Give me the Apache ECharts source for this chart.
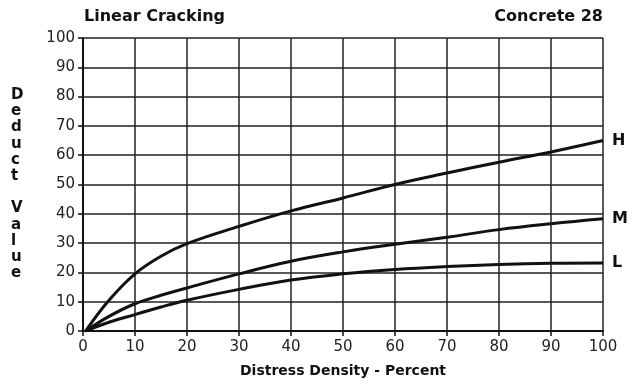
<!DOCTYPE html>
<html><head><meta charset="utf-8">
<script src="https://cdn.jsdelivr.net/npm/echarts@6/dist/echarts.min.js"></script>
<style>html,body{margin:0;padding:0;background:#fff}#c{width:635px;height:387px}</style>
</head><body><div id="c"></div>
<script>
const density = [0.5, 5, 10, 15, 20, 30, 40, 50, 60, 70, 80, 90, 100];
const highValues = [0, 10.5, 19.5, 25.5, 29.8, 35.7, 41, 45.4, 50, 53.9, 57.6, 61.1, 65];
const mediumValues = [0, 5, 9.3, 12.2, 14.7, 19.5, 23.8, 27, 29.6, 32, 34.6, 36.6, 38.3];
const lowValues = [0, 3, 5.6, 8.2, 10.5, 14.2, 17.4, 19.5, 21, 22, 22.7, 23.1, 23.2];
const seriesNames = ['H', 'M', 'L'];
const xTicks = [0, 10, 20, 30, 40, 50, 60, 70, 80, 90, 100];
const yTicks = [0, 10, 20, 30, 40, 50, 60, 70, 80, 90, 100];

const font = 'DejaVu Sans, Verdana, sans-serif';
const chart = echarts.init(document.getElementById('c'), null, {renderer: 'canvas'});
const pair = (vals) => density.map((x, i) => [x, vals[i]]);
const mk = (name, vals) => ({
  name, type: 'line', data: pair(vals), smooth: 0.4, showSymbol: false,
  lineStyle: {color: '#111', width: 3}, z: 5,
  endLabel: {show: true, formatter: name, distance: 9, fontFamily: font, fontWeight: 'bold', fontSize: 16, color: '#111'}
});
chart.setOption({
  animation: false,
  backgroundColor: '#fff',
  grid: {left: 83, right: 32, top: 38, bottom: 56},
  title: [
    {text: 'Linear Cracking', left: 84, top: 9, padding: 0, textStyle: {fontFamily: font, fontWeight: 'bold', fontSize: 16, color: '#111'}},
    {text: 'Concrete 28', right: 32, top: 9, padding: 0, textStyle: {fontFamily: font, fontWeight: 'bold', fontSize: 16, color: '#111'}}
  ],
  xAxis: {
    type: 'value', min: 0, max: 100, interval: 10,
    name: 'Distress Density - Percent', nameLocation: 'middle', nameGap: 33,
    nameTextStyle: {fontFamily: font, fontWeight: 'bold', fontSize: 14, color: '#111'},
    axisLine: {show: true, lineStyle: {color: '#111', width: 2}},
    axisTick: {show: true, length: 5, lineStyle: {color: '#111', width: 1.5}},
    axisLabel: {fontFamily: font, fontSize: 15, color: '#222', margin: 9,
      formatter: v => xTicks.includes(v) ? String(v) : ''},
    splitLine: {show: true, lineStyle: {color: '#222', width: 1.5}}
  },
  yAxis: {
    type: 'value', min: 0, max: 100, interval: 10,
    axisLine: {show: true, lineStyle: {color: '#111', width: 2}},
    axisTick: {show: true, length: 5, lineStyle: {color: '#111', width: 1.5}},
    axisLabel: {fontFamily: font, fontSize: 15, color: '#222', margin: 8,
      formatter: v => yTicks.includes(v) ? String(v) : ''},
    splitLine: {show: true, lineStyle: {color: '#222', width: 1.5}}
  },
  graphic: [{
    type: 'text', left: 11, top: 87,
    style: {text: 'D\ne\nd\nu\nc\nt\n \nV\na\nl\nu\ne', fontFamily: font, fontWeight: 'bold', fontSize: 15,
      lineHeight: 16.2, fill: '#111', align: 'center'}
  }],
  series: [mk(seriesNames[0], highValues), mk(seriesNames[1], mediumValues), mk(seriesNames[2], lowValues)]
});
</script></body></html>
